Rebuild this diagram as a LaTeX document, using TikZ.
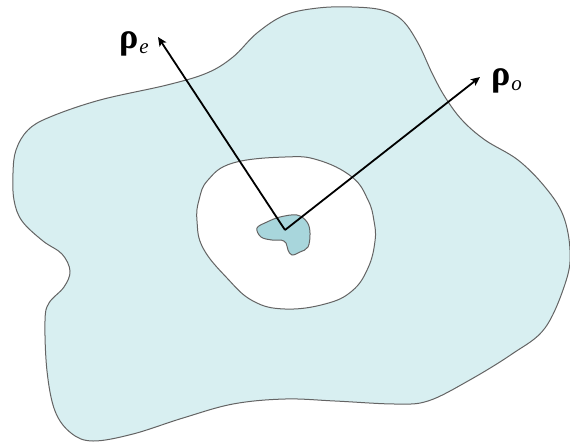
\documentclass[tikz,border=0pt]{standalone}
\usepackage{fontspec}
\setmainfont{Liberation Serif}
\usetikzlibrary{arrows.meta}
\definecolor{regfill}{RGB}{216,239,241}
\definecolor{blobfill}{RGB}{168,214,220}
\definecolor{edgegray}{RGB}{100,100,100}
\tikzset{
  region/.style={draw=edgegray, line width=1pt},
  vec/.style={line width=1.8pt, -{Stealth[length=9pt,width=8pt,inset=2pt]}},
  lbl/.style={inner sep=0pt, font=\fontsize{36}{36}\selectfont}
}
\newcommand{\rhosub}[1]{{\bfseries ρ}\kern1pt\raisebox{-5pt}{\fontsize{21}{21}\selectfont\itshape #1}}
\begin{document}
\begin{tikzpicture}[x=1pt,y=-1pt]
\useasboundingbox (0,0) rectangle (570,442);
\fill[white] (0,0) rectangle (570,442);
% outer region
\draw[region, fill=regfill] plot[smooth cycle, tension=0.6] coordinates {
(318,8) (352,7) (382,10) (402,20) (418,43) (432,73) (445,97) (462,120)
(485,140) (518,160) (545,187) (563,215) (570,250) (566,281) (545,328)
(512,354) (468,381) (428,401) (395,404) (335,401) (285,399) (233,404)
(183,418) (133,434) (93,441) (71,433) (55,411) (47,371) (45,321) (49,303)
(64,287) (70,271) (62,254) (43,241) (22,221) (14,200) (13,173) (16,150)
(28,130) (50,117) (100,100) (167,85) (207,73) (233,57) (257,33) (285,15)};
% inner hole
\draw[region, fill=white] plot[smooth cycle, tension=0.7] coordinates {
(285,157) (318,160) (352,177) (368,200) (374,221) (375,241) (368,268)
(352,291) (325,304) (285,309) (253,301) (227,278) (203,248) (197,221)
(199,200) (208,180) (233,163)};
% small blob
\draw[region, fill=blobfill] plot[smooth cycle, tension=0.6] coordinates {
(257,228) (267,222) (280,217) (297,215) (307,222) (310,233) (308,247)
(300,252) (292,255) (288,250) (286,243) (281,240) (272,240) (261,237)};
\coordinate (o) at (285,230);
\coordinate (te) at (158,37);
\coordinate (to) at (480,77);
\draw[vec] (o) -- (te);
\draw[vec] (o) -- (to);
\node[lbl, anchor=base west] (le) at (119,48) {\rhosub{e}};
\node[lbl, anchor=base west] (lo) at (491,85) {\rhosub{o}};
\end{tikzpicture}
\end{document}
